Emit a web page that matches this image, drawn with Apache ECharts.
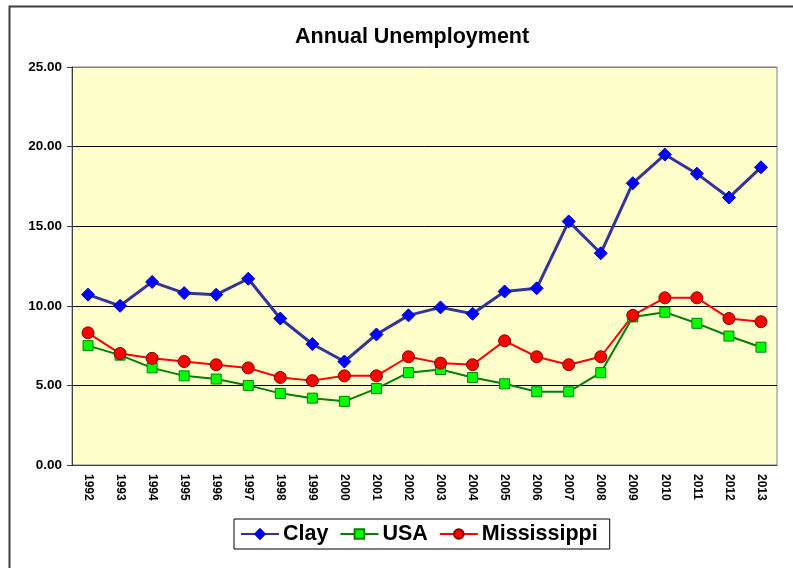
<!DOCTYPE html>
<html>
<head>
<meta charset="utf-8">
<script src="https://cdn.jsdelivr.net/npm/echarts@6/dist/echarts.min.js"></script>
<style>html,body{margin:0;padding:0;background:#fff;}#chart{width:793px;height:568px;}</style>
</head>
<body>
<div id="chart"></div>
<script>
const years = ['1992','1993','1994','1995','1996','1997','1998','1999','2000','2001','2002','2003','2004','2005','2006','2007','2008','2009','2010','2011','2012','2013'];
const clay = [10.7, 10.0, 11.5, 10.8, 10.7, 11.7, 9.2, 7.6, 6.5, 8.2, 9.4, 9.9, 9.5, 10.9, 11.1, 15.3, 13.3, 17.7, 19.5, 18.3, 16.8, 18.7];
const usa = [7.5, 6.9, 6.1, 5.6, 5.4, 5.0, 4.5, 4.2, 4.0, 4.8, 5.8, 6.0, 5.5, 5.1, 4.6, 4.6, 5.8, 9.3, 9.6, 8.9, 8.1, 7.4];
const mississippi = [8.3, 7.0, 6.7, 6.5, 6.3, 6.1, 5.5, 5.3, 5.6, 5.6, 6.8, 6.4, 6.3, 7.8, 6.8, 6.3, 6.8, 9.4, 10.5, 10.5, 9.2, 9.0];
const yTicks = [0, 5, 10, 15, 20, 25];

const chart = echarts.init(document.getElementById('chart'), null, {renderer: 'canvas'});
chart.setOption({
  animation: false,
  backgroundColor: '#ffffff',
  title: {
    text: 'Annual Unemployment',
    left: 290, top: 21,
    textStyle: {fontFamily: 'Liberation Sans, Arial, sans-serif', fontWeight: 'bold', fontSize: 21.5, color: '#000'}
  },
  graphic: [{
    type: 'rect', left: 7, top: 4, silent: true,
    shape: {width: 900, height: 700},
    style: {fill: 'none', stroke: '#404040', lineWidth: 2}
  }],
  grid: {
    left: 72, right: 16, top: 67, bottom: 103,
    show: true, backgroundColor: '#FFFFCC', borderColor: '#808080', borderWidth: 1
  },
  legend: {
    left: 234, top: 519,
    orient: 'horizontal',
    itemWidth: 38, itemHeight: 12, itemGap: 11,
    padding: [4, 12, 4, 6],
    borderColor: '#000', borderWidth: 1, backgroundColor: '#fff',
    textStyle: {fontFamily: 'Liberation Sans, Arial, sans-serif', fontWeight: 'bold', fontSize: 21.5, color: '#000', padding: [0, 0, 0, -1]},
    data: ['Clay', 'USA', 'Mississippi']
  },
  xAxis: {
    type: 'category',
    data: years,
    boundaryGap: true,
    axisLine: {lineStyle: {color: '#404040', width: 1}},
    axisTick: {length: 5, lineStyle: {color: '#404040'}},
    axisLabel: {
      rotate: -90, interval: 0, margin: 9,
      fontFamily: 'Liberation Sans, Arial, sans-serif', fontWeight: 'bold', fontSize: 12, color: '#000'
    },
    splitLine: {show: false}
  },
  yAxis: {
    type: 'value',
    min: yTicks[0], max: yTicks[yTicks.length - 1], interval: 5,
    axisLine: {show: true, lineStyle: {color: '#404040', width: 1}},
    axisTick: {show: true, length: 5, lineStyle: {color: '#404040'}},
    axisLabel: {
      margin: 10,
      formatter: v => v.toFixed(2),
      fontFamily: 'Liberation Sans, Arial, sans-serif', fontWeight: 'bold', fontSize: 13.5, color: '#000'
    },
    splitLine: {show: true, lineStyle: {color: ['#000', '#000', '#000', '#000', '#000', '#808080'], width: 1}}
  },
  series: [
    {
      name: 'Clay', type: 'line', data: clay,
      symbol: 'diamond', symbolSize: 13,
      lineStyle: {color: '#333399', width: 3},
      itemStyle: {color: '#0000FF', borderColor: '#0000CC', borderWidth: 1}
    },
    {
      name: 'USA', type: 'line', data: usa,
      symbol: 'rect', symbolSize: 10,
      lineStyle: {color: '#008000', width: 2},
      itemStyle: {color: '#00FF00', borderColor: '#008000', borderWidth: 1}
    },
    {
      name: 'Mississippi', type: 'line', data: mississippi,
      symbol: 'circle', symbolSize: 12,
      lineStyle: {color: '#FF0000', width: 2},
      itemStyle: {color: '#FF0000', borderColor: '#800000', borderWidth: 1}
    }
  ]
});
</script>
</body>
</html>
